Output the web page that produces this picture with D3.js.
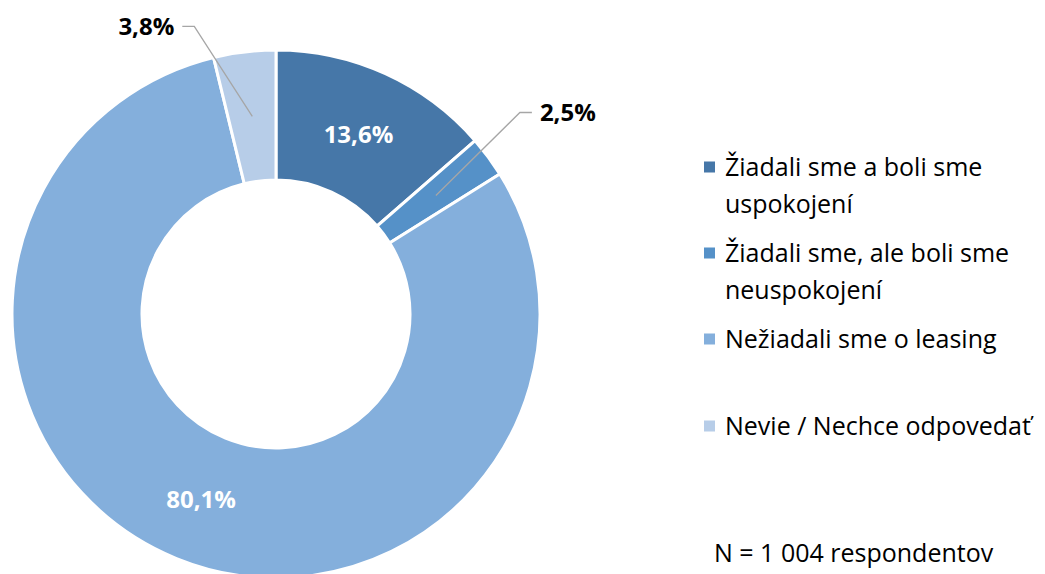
<!DOCTYPE html>
<html>
<head>
<meta charset="utf-8">
<script src="https://cdn.jsdelivr.net/npm/d3@7"></script>
<style>
	body { margin: 0; background: #fff; }
	svg { display: block; }
</style>
</head>
<body>
<div class="donut-chart"></div>
<script>
// Data
var categories = ['Žiadali sme a boli sme uspokojení', 'Žiadali sme, ale boli sme neuspokojení',
		'Nežiadali sme o leasing', 'Nevie / Nechce odpovedať'],
	legendLines = [['Žiadali sme a boli sme', 'uspokojení'], ['Žiadali sme, ale boli sme', 'neuspokojení'],
		['Nežiadali sme o leasing'], ['Nevie / Nechce odpovedať']],
	values = [13.6, 2.5, 80.1, 3.8],
	valueLabels = ['13,6%', '2,5%', '80,1%', '3,8%'],
	colors = ['#4677a8', '#5591c8', '#84afdc', '#b7cde8'],
	note = 'N = 1 004 respondentov';

var width = 1045,
	height = 574,
	cx = 276,
	cy = 314,
	outerR = 264,
	innerR = 134,
	fontFamily = '"Open Sans", "Noto Sans", sans-serif',
	leaderColor = '#a6a6a6';

// Labels that sit outside of the ring: elbow offset from the slice centroid, side of the label
var outside = {
	1: {dx: 84, dy: -83, side: 1},
	3: {dx: -58, dy: -90, side: -1}
};

var svg = d3.select('.donut-chart').append('svg')
	.attr('width', width)
	.attr('height', height)
	.attr('font-family', fontFamily);

var g = svg.append('g')
	.attr('transform', 'translate(' + cx + ',' + cy + ')');

var pie = d3.pie().sort(null).value(function(d) { return d; });
var arc = d3.arc().innerRadius(innerR).outerRadius(outerR);
var arcs = pie(values);

g.selectAll('path.slice')
	.data(arcs)
	.enter().append('path')
	.attr('class', 'slice')
	.attr('d', arc)
	.attr('fill', function(d, i) { return colors[i]; })
	.attr('stroke', '#fff')
	.attr('stroke-width', 3)
	.attr('stroke-linejoin', 'miter');

// Data labels
arcs.forEach(function(d, i) {
	var c = arc.centroid(d);
	if (outside[i]) {
		var o = outside[i],
			ex = c[0] + o.dx,
			ey = c[1] + o.dy,
			hx = ex + o.side * 12;
		g.append('polyline')
			.attr('points', [c, [ex, ey], [hx, ey]].map(function(p) { return p.join(','); }).join(' '))
			.attr('fill', 'none')
			.attr('stroke', leaderColor)
			.attr('stroke-width', 1.3);
		g.append('text')
			.attr('x', hx + o.side * 8)
			.attr('y', ey)
			.attr('dy', '0.36em')
			.attr('text-anchor', o.side > 0 ? 'start' : 'end')
			.attr('font-size', '24px')
			.attr('font-weight', 'bold')
			.attr('fill', '#000')
			.text(valueLabels[i]);
	} else {
		g.append('text')
			.attr('x', c[0])
			.attr('y', c[1])
			.attr('dy', '0.4em')
			.attr('text-anchor', 'middle')
			.attr('font-size', '24px')
			.attr('font-weight', 'bold')
			.attr('fill', '#fff')
			.text(valueLabels[i]);
	}
});

// Legend
var legendX = 704,
	legendY = [167, 253, 339, 426],
	lineHeight = 37;
var legend = svg.append('g').attr('class', 'legend');
categories.forEach(function(cat, i) {
	legend.append('rect')
		.attr('x', legendX)
		.attr('y', legendY[i] - 5.5)
		.attr('width', 11)
		.attr('height', 11)
		.attr('fill', colors[i]);
	var t = legend.append('text')
		.attr('font-size', '25px')
		.attr('fill', '#000');
	legendLines[i].forEach(function(line, j) {
		t.append('tspan')
			.attr('x', legendX + 21)
			.attr('y', legendY[i] + j * lineHeight)
			.attr('dy', '0.35em')
			.text(line);
	});
});

svg.append('text')
	.attr('x', 714)
	.attr('y', 553)
	.attr('dy', '0.35em')
	.attr('font-size', '25px')
	.attr('fill', '#000')
	.text(note);
</script>
</body>
</html>
